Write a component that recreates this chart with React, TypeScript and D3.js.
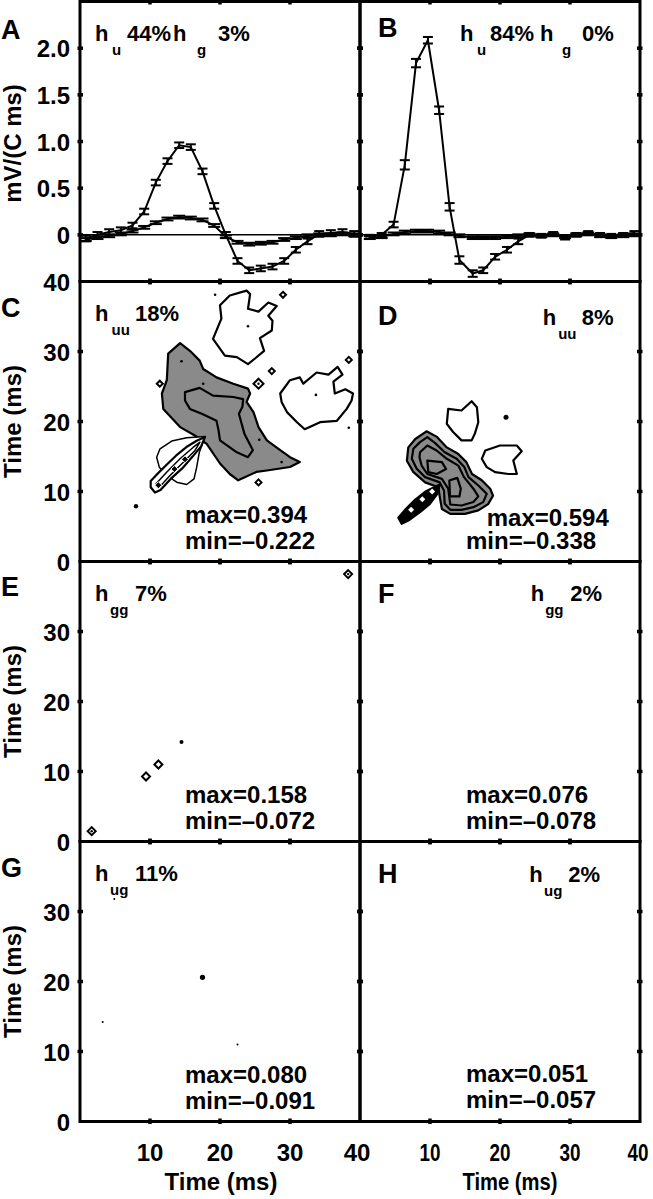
import React, { useEffect } from 'react';
import * as d3 from 'd3';

const FONT = '"Liberation Sans", Arial, Helvetica, sans-serif';
const GRAY = '#8a8a8a';

// ---------- Row 1: kernels (mV/(C ms)) ----------
const timeA = [0.83, 2.5, 4.17, 5.83, 7.5, 9.17, 10.83, 12.5, 14.17, 15.83, 17.5, 19.17, 20.83, 22.5, 24.17, 25.83, 27.5, 29.17, 30.83, 32.5, 34.17, 35.83, 37.5, 39.17];
const kernelAu = [-0.04, 0.0, 0.03, 0.05, 0.1, 0.25, 0.56, 0.79, 0.96, 0.94, 0.68, 0.31, 0.0, -0.28, -0.38, -0.36, -0.34, -0.28, -0.16, -0.07, 0.01, 0.02, 0.03, 0.01];
const errAu = [0.03, 0.03, 0.03, 0.03, 0.03, 0.03, 0.03, 0.03, 0.03, 0.03, 0.03, 0.03, 0.03, 0.03, 0.03, 0.03, 0.03, 0.03, 0.03, 0.03, 0.03, 0.03, 0.03, 0.03];
const kernelAg = [-0.05, -0.03, -0.01, 0.01, 0.04, 0.08, 0.13, 0.17, 0.19, 0.18, 0.16, 0.1, -0.02, -0.08, -0.1, -0.09, -0.08, -0.05, -0.03, -0.01, 0.0, 0.0, 0.01, 0.0];
const errAg = [0.015, 0.015, 0.015, 0.015, 0.015, 0.015, 0.015, 0.015, 0.015, 0.015, 0.015, 0.015, 0.015, 0.015, 0.015, 0.015, 0.015, 0.015, 0.015, 0.015, 0.015, 0.015, 0.015, 0.015];

const timeB = [1.4, 3.1, 4.8, 6.4, 8.0, 9.7, 11.3, 12.8, 14.2, 16.1, 17.6, 19.3, 21.0, 22.6, 24.2, 25.9, 27.6, 29.3, 30.9, 32.6, 34.3, 35.9, 37.6, 39.2];
const kernelBu = [-0.02, 0.0, 0.11, 0.75, 1.84, 2.085, 1.335, 0.3, -0.27, -0.415, -0.38, -0.235, -0.16, -0.07, 0.0, -0.01, 0.01, -0.03, 0.0, 0.02, 0.0, -0.01, 0.0, 0.02];
const errBu = [0.02, 0.02, 0.03, 0.05, 0.045, 0.035, 0.04, 0.04, 0.04, 0.035, 0.03, 0.03, 0.03, 0.03, 0.02, 0.02, 0.02, 0.02, 0.02, 0.02, 0.02, 0.02, 0.02, 0.02];
const kernelBg = [-0.03, -0.02, 0.01, 0.03, 0.04, 0.04, 0.03, 0.01, -0.01, -0.03, -0.03, -0.03, -0.02, -0.01, 0.0, -0.01, 0.0, -0.02, 0.0, 0.01, -0.01, -0.02, -0.01, 0.0];
const errBg = [0.015, 0.015, 0.015, 0.015, 0.015, 0.015, 0.015, 0.015, 0.015, 0.015, 0.015, 0.015, 0.015, 0.015, 0.015, 0.015, 0.015, 0.015, 0.015, 0.015, 0.015, 0.015, 0.015, 0.015];

const kernelTicks = [0, 0.5, 1, 1.5, 2];
const kernelTickLabels = ['0', '0.5', '1.0', '1.5', '2.0'];
const timeTicks = [10, 20, 30];
const timeTickLabelsY = ['0', '10', '20', '30', '40'];
const timeTickLabelsX = ['10', '20', '30', '40'];

// ---------- Panel C contours (ms, ms) ----------
const cPositiveOuter = [[14.3, 31.2], [15.7, 30.1], [17.1, 28.7], [17.6, 27.5], [19.5, 26.3], [21.9, 25.4], [24.0, 24.7], [24.3, 24.0], [23.8, 22.8], [24.8, 21.3], [25.5, 19.2], [26.7, 17.3], [28.6, 15.9], [30.0, 14.9], [31.4, 14.2], [30.0, 13.5], [26.7, 13.0], [25.2, 12.8], [22.6, 11.6], [21.4, 12.5], [20.0, 14.0], [18.1, 16.8], [16.4, 18.0], [14.3, 19.2], [11.9, 21.8], [11.7, 24.0], [12.4, 25.9], [12.6, 29.7]];
const cPositiveInner = [[15.0, 24.2], [17.1, 24.8], [19.0, 23.7], [21.9, 23.5], [23.3, 23.2], [23.2, 22.1], [22.7, 21.1], [23.5, 18.2], [24.7, 15.9], [24.0, 14.9], [22.4, 15.6], [20.0, 17.3], [19.8, 18.7], [19.5, 20.1], [17.4, 21.1], [15.7, 21.8], [15.0, 23.0]];
const cNegTop = [[19.0, 31.8], [20.2, 34.7], [20.0, 36.6], [21.4, 38.0], [23.8, 38.7], [24.3, 38.2], [24.0, 36.1], [25.5, 35.7], [26.9, 37.0], [28.1, 36.5], [26.9, 35.1], [27.5, 34.4], [27.4, 33.0], [25.7, 31.9], [26.3, 30.1], [25.0, 29.0], [24.0, 28.2], [22.4, 29.2], [20.7, 29.4]];
const cNegRight = [[28.6, 24.0], [30.0, 25.9], [31.4, 26.3], [31.9, 25.4], [33.8, 27.0], [35.5, 26.7], [36.8, 27.8], [37.5, 26.7], [36.2, 25.7], [36.4, 24.0], [37.9, 24.6], [39.0, 24.0], [38.8, 23.0], [38.1, 21.8], [36.7, 20.1], [34.3, 19.9], [32.1, 18.9], [31.0, 19.9], [29.6, 21.3], [28.8, 22.8]];
const cLens = [[17.86, 17.86], [15.24, 17.67], [13.1, 17.2], [11.43, 16.1], [10.95, 14.9], [11.33, 13.48], [12.38, 12.29], [13.81, 11.33], [15.24, 11.0], [16.29, 11.81], [16.67, 13.48], [17.05, 15.62]];
const cBoatOuter = [[10.1, 11.5], [10.85, 12.3], [12.3, 13.75], [13.75, 15.15], [15.2, 16.35], [16.67, 17.25], [17.86, 17.8], [17.3, 16.45], [16.05, 14.95], [14.6, 13.3], [12.95, 11.8], [11.5, 10.2], [10.71, 9.85], [10.1, 10.6]];
const cBoatInner = [[10.86, 11.1], [12.38, 12.76], [14.29, 14.67], [16.19, 16.33], [17.14, 17.05], [16.43, 15.86], [14.76, 14.19], [12.86, 12.29], [11.33, 10.62]];
const cBoatCores = [[11.2, 10.9], [13.5, 13.2], [15.0, 14.6]];
const cDots = [[14.5, 28.6], [17.6, 25.4], [25.6, 17.4], [28.8, 14.2], [24.0, 33.6], [33.7, 23.8], [38.4, 19.1], [19.3, 38.1]];
const cBigDots = [[8.0, 7.9]];
const cRings = [[25.5, 25.4]];
const cLoops = [[27.4, 27.2], [11.4, 25.4], [25.5, 11.3], [29.0, 38.1], [38.4, 28.8]];

// ---------- Panel D contours ----------
const dLevel1 = [[6.9, 16.3], [7.9, 17.5], [9.5, 18.6], [11.0, 17.8], [12.4, 16.3], [14.0, 15.4], [15.2, 14.2], [16.0, 12.5], [17.4, 11.6], [18.6, 10.4], [19.0, 9.4], [18.3, 8.2], [16.9, 7.3], [15.0, 6.8], [12.9, 6.8], [11.7, 7.5], [11.4, 9.2], [11.2, 10.6], [9.3, 11.3], [7.6, 12.8], [6.7, 14.4]];
const dLevel2 = [[7.62, 16.1], [8.57, 17.05], [9.62, 17.76], [10.7, 16.95], [12.1, 15.6], [13.8, 14.67], [14.9, 13.5], [15.5, 12.05], [16.9, 10.86], [18.1, 9.67], [17.6, 8.48], [16.2, 7.76], [14.5, 7.38], [12.9, 7.38], [12.1, 8.24], [12.0, 10.14], [11.4, 11.3], [9.3, 12.05], [8.1, 13.24], [7.4, 14.67]];
const dLevel3 = [[8.57, 15.6], [9.62, 16.57], [10.95, 15.86], [12.4, 14.67], [14.05, 13.7], [14.86, 12.05], [16.2, 10.4], [16.9, 9.3], [16.2, 8.5], [14.5, 8.0], [12.9, 8.14], [12.6, 10.4], [11.7, 11.8], [9.62, 12.5], [8.8, 13.7], [8.5, 14.9]];
const dLevel4a = [[9.62, 14.4], [11.7, 14.2], [12.3, 13.2], [10.95, 12.5], [9.76, 12.76]];
const dLevel4b = [[12.76, 11.57], [13.9, 11.95], [14.4, 10.4], [14.2, 9.29], [12.86, 9.29]];
const dNegTop = [[12.6, 21.8], [14.5, 21.57], [15.95, 22.9], [16.7, 22.05], [16.9, 19.9], [16.4, 18.24], [15.95, 17.3], [14.5, 17.3], [13.3, 18.5], [12.4, 19.67]];
const dNegRight = [[17.9, 15.86], [20.0, 16.57], [22.4, 16.57], [23.1, 15.76], [21.9, 14.43], [22.4, 12.5], [21.2, 12.5], [19.3, 12.76], [18.1, 13.48], [17.4, 14.67]];
const dBoat = [[5.48, 6.24], [6.43, 7.38], [7.86, 8.81], [9.43, 10.05], [11.4, 11.0], [11.05, 9.67], [9.9, 8.14], [8.57, 7.05], [6.9, 5.86], [5.95, 5.38]];
const dBoatHoles = [[7.3, 7.4], [8.9, 8.9], [10.3, 10.0]];
const dBigDots = [[20.86, 20.6]];

// ---------- Panel E / G marks ----------
const eRings = [[38.3, 38.2], [1.67, 1.48]];
const eLoops = [[9.43, 9.29], [11.2, 11.0]];
const eDots = [[14.5, 14.2]];
const gBigDots = [[17.5, 20.6]];
const gDots = [[3.24, 14.2], [22.5, 11.0], [4.9, 31.8]];

// ---------- Texts ----------
const panelLetters = ['A', 'B', 'C', 'D', 'E', 'F', 'G', 'H'];
const maxTexts = ['max=0.394', 'max=0.594', 'max=0.158', 'max=0.076', 'max=0.080', 'max=0.051'];
const minTexts = ['min=–0.222', 'min=–0.338', 'min=–0.072', 'min=–0.078', 'min=–0.091', 'min=–0.057'];

const COLS = [80, 360];
const ROWS = [1.5, 281.5, 561.5, 841.5];
const SIZE = 280;

const xScale = (c: number) => d3.scaleLinear().domain([0, 40]).range([COLS[c], COLS[c] + SIZE]);
const yTime = (r: number) => d3.scaleLinear().domain([0, 40]).range([ROWS[r] + SIZE, ROWS[r]]);
const yKernel = d3.scaleLinear().domain([-0.5, 2.5]).range([ROWS[0] + SIZE, ROWS[0]]);

type Sc = d3.ScaleLinear<number, number>;

function Poly({ pts, xs, ys, fill, sw = 2.2 }: { pts: number[][]; xs: Sc; ys: Sc; fill: string; sw?: number }) {
  const gen = d3.line<number[]>().x((d) => xs(d[0])).y((d) => ys(d[1])).curve(d3.curveLinearClosed);
  return <path d={gen(pts) || ''} fill={fill} stroke="#000" strokeWidth={sw} strokeLinejoin="round" />;
}

function diamond(cx: number, cy: number, h: number) {
  return `M${cx},${cy - h}L${cx + h},${cy}L${cx},${cy + h}L${cx - h},${cy}Z`;
}

function Marks({ pts, xs, ys, kind, s }: { pts: number[][]; xs: Sc; ys: Sc; kind: string; s: number }) {
  return (
    <g>
      {pts.map((p, i) => {
        const cx = xs(p[0]);
        const cy = ys(p[1]);
        if (kind === 'dot') return <circle key={i} cx={cx} cy={cy} r={s} fill="#000" />;
        if (kind === 'hole') return <path key={i} d={diamond(cx, cy, s)} fill="#fff" />;
        if (kind === 'core') return <path key={i} d={diamond(cx, cy, s)} fill="#000" stroke="#fff" strokeWidth={1} />;
        return (
          <g key={i}>
            <path d={diamond(cx, cy, s)} fill="#fff" stroke="#000" strokeWidth={2} />
            {kind === 'ring' && <circle cx={cx} cy={cy} r={1.2} fill="#000" />}
          </g>
        );
      })}
    </g>
  );
}

function Kernel({ t, v, e, xs, cap }: { t: number[]; v: number[]; e: number[]; xs: Sc; cap: number }) {
  const line = d3.line<number>().x((_, i) => xs(t[i])).y((d) => yKernel(d));
  return (
    <g stroke="#000" fill="none" strokeWidth={2}>
      <path d={line(v) || ''} />
      {v.map((d, i) => {
        const x = xs(t[i]);
        const y1 = yKernel(d - e[i]);
        const y2 = yKernel(d + e[i]);
        return (
          <g key={i}>
            <line x1={x} x2={x} y1={y1} y2={y2} />
            <line x1={x - cap} x2={x + cap} y1={y1} y2={y1} />
            <line x1={x - cap} x2={x + cap} y1={y2} y2={y2} />
          </g>
        );
      })}
    </g>
  );
}

function HLabel({ x, y, parts }: { x: number; y: number; parts: [number, string, boolean][] }) {
  return (
    <g fontFamily={FONT} fontWeight="bold" fill="#000">
      {parts.map(([dx, s, sub], i) => (
        <text key={i} x={x + dx} y={sub ? y + 14 : y} fontSize={sub ? 15 : 22}>{s}</text>
      ))}
    </g>
  );
}

export default function App() {
  useEffect(() => {
    document.body.style.margin = '0';
  }, []);
  const x0 = xScale(0);
  const x1 = xScale(1);
  const yr = [0, 1, 2, 3].map(yTime);

  const frames: JSX.Element[] = [];
  for (let r = 0; r < 4; r++) {
    for (let c = 0; c < 2; c++) {
      const xs = xScale(c);
      const left = COLS[c];
      const top = ROWS[r];
      const ticks: JSX.Element[] = [];
      timeTicks.forEach((tv) => {
        const px = xs(tv);
        ticks.push(<line key={`xt${tv}`} x1={px} x2={px} y1={top - 2.5} y2={top + 3} />);
        ticks.push(<line key={`xb${tv}`} x1={px} x2={px} y1={top + SIZE - 3} y2={top + SIZE + 2.5} />);
      });
      const yv = r === 0 ? kernelTicks.map((k) => yKernel(k)) : timeTicks.map((k) => yr[r](k));
      yv.forEach((py, i) => {
        ticks.push(<line key={`yl${i}`} x1={left - 2.5} x2={left + 3} y1={py} y2={py} />);
        ticks.push(<line key={`yr${i}`} x1={left + SIZE - 3} x2={left + SIZE + 2.5} y1={py} y2={py} />);
      });
      frames.push(
        <g key={`f${r}${c}`} stroke="#000" fill="none">
          <rect x={left} y={top} width={SIZE} height={SIZE} strokeWidth={3} />
          <g strokeWidth={3.5}>{ticks}</g>
        </g>
      );
    }
  }

  const letterPos = [
    [1, 37.8], [378, 35.2], [1, 35.8], [378, 43.5], [1, 34.5], [378, 41.8], [1, 35.2], [378, 41.8],
  ];

  return (
    <svg width={653} height={1199} style={{ position: 'absolute', left: 0, top: 0, background: '#fff' }} fontFamily={FONT}>
      <rect x={0} y={0} width={653} height={1199} fill="#fff" />

      {/* Row 1 kernels */}
      <line x1={COLS[0]} x2={COLS[0] + SIZE} y1={yKernel(0)} y2={yKernel(0)} stroke="#000" strokeWidth={1.5} />
      <line x1={COLS[1]} x2={COLS[1] + SIZE} y1={yKernel(0)} y2={yKernel(0)} stroke="#000" strokeWidth={1.5} />
      <Kernel t={timeA} v={kernelAg} e={errAg} xs={x0} cap={6} />
      <Kernel t={timeA} v={kernelAu} e={errAu} xs={x0} cap={5} />
      <Kernel t={timeB} v={kernelBg} e={errBg} xs={x1} cap={6} />
      <Kernel t={timeB} v={kernelBu} e={errBu} xs={x1} cap={5} />

      {/* Panel C */}
      <Poly pts={cPositiveOuter} xs={x0} ys={yr[1]} fill={GRAY} />
      <Poly pts={cPositiveInner} xs={x0} ys={yr[1]} fill="none" />
      <Poly pts={cNegTop} xs={x0} ys={yr[1]} fill="#fff" />
      <Poly pts={cNegRight} xs={x0} ys={yr[1]} fill="#fff" />
      <Poly pts={cLens} xs={x0} ys={yr[1]} fill="#fff" sw={1.5} />
      <Poly pts={cBoatOuter} xs={x0} ys={yr[1]} fill="#fff" />
      <Poly pts={cBoatInner} xs={x0} ys={yr[1]} fill="#fff" sw={1.5} />
      <Marks pts={cBoatCores} xs={x0} ys={yr[1]} kind="core" s={3.5} />
      <Marks pts={cDots} xs={x0} ys={yr[1]} kind="dot" s={1.3} />
      <Marks pts={cBigDots} xs={x0} ys={yr[1]} kind="dot" s={2.2} />
      <Marks pts={cRings} xs={x0} ys={yr[1]} kind="ring" s={5} />
      <Marks pts={cLoops} xs={x0} ys={yr[1]} kind="loop" s={3} />

      {/* Panel D */}
      <Poly pts={dLevel1} xs={x1} ys={yr[1]} fill={GRAY} />
      <Poly pts={dLevel2} xs={x1} ys={yr[1]} fill={GRAY} />
      <Poly pts={dLevel3} xs={x1} ys={yr[1]} fill={GRAY} />
      <Poly pts={dLevel4a} xs={x1} ys={yr[1]} fill={GRAY} />
      <Poly pts={dLevel4b} xs={x1} ys={yr[1]} fill={GRAY} />
      <Poly pts={dNegTop} xs={x1} ys={yr[1]} fill="#fff" />
      <Poly pts={dNegRight} xs={x1} ys={yr[1]} fill="#fff" />
      <Poly pts={dBoat} xs={x1} ys={yr[1]} fill="#000" />
      <Marks pts={dBoatHoles} xs={x1} ys={yr[1]} kind="hole" s={3} />
      <Marks pts={dBigDots} xs={x1} ys={yr[1]} kind="dot" s={2.5} />

      {/* Panel E */}
      <Marks pts={eRings} xs={x0} ys={yr[2]} kind="ring" s={4} />
      <Marks pts={eLoops} xs={x0} ys={yr[2]} kind="loop" s={4} />
      <Marks pts={eDots} xs={x0} ys={yr[2]} kind="dot" s={2} />

      {/* Panel G */}
      <Marks pts={gBigDots} xs={x0} ys={yr[3]} kind="dot" s={2.6} />
      <Marks pts={gDots} xs={x0} ys={yr[3]} kind="dot" s={1} />

      {frames}

      {/* Y tick labels */}
      <g fontSize={24} fontWeight="bold" textAnchor="end">
        {kernelTicks.map((k, i) => (
          <text key={`k${i}`} x={70} y={yKernel(k) + 9}>{kernelTickLabels[i]}</text>
        ))}
        {[1, 2, 3].map((r) =>
          [0, 10, 20, 30, 40]
            .filter((v) => r === 1 || v < 40)
            .map((v, i) => (
              <text key={`t${r}${i}`} x={70} y={yr[r](v) + 9}>{timeTickLabelsY[v / 10]}</text>
            ))
        )}
      </g>

      {/* X tick labels */}
      <g fontSize={24} fontWeight="bold" textAnchor="middle">
        {[10, 20, 30, 40].map((v, i) => (
          <text key={`xl${i}`} x={x0(v) - (v === 40 ? 3 : 0)} y={1161}>{timeTickLabelsX[i]}</text>
        ))}
        {[10, 20, 30, 40].map((v, i) => (
          <text key={`xr${i}`} x={x1(v) - (v === 40 ? 2 : 0)} y={1161} textLength={21} lengthAdjust="spacingAndGlyphs">{timeTickLabelsX[i]}</text>
        ))}
        <text x={221} y={1190}>Time (ms)</text>
        <text x={510} y={1190} textLength={95} lengthAdjust="spacingAndGlyphs">Time (ms)</text>
      </g>

      {/* Y axis titles */}
      <g fontSize={24} fontWeight="bold" textAnchor="middle">
        <text transform={`translate(21,${ROWS[0] + 142}) rotate(-90)`}>mV/(C ms)</text>
        {[1, 2, 3].map((r) => (
          <text key={r} transform={`translate(21,${ROWS[r] + 140}) rotate(-90)`}>Time (ms)</text>
        ))}
      </g>

      {/* Panel letters */}
      <g fontSize={27} fontWeight="bold">
        {panelLetters.map((L, i) => (
          <text key={L} x={letterPos[i][0]} y={ROWS[Math.floor(i / 2)] + letterPos[i][1]}>{L}</text>
        ))}
      </g>

      {/* h labels */}
      <HLabel x={95} y={ROWS[0] + 39.2} parts={[[0, 'h', false], [17, 'u', true], [32, '44%', false], [78, 'h', false], [102, 'g', true], [123, '3%', false]]} />
      <HLabel x={460} y={ROWS[0] + 39} parts={[[0, 'h', false], [17, 'u', true], [30, '84%', false], [80, 'h', false], [102, 'g', true], [122, '0%', false]]} />
      <HLabel x={95} y={ROWS[1] + 39.2} parts={[[0, 'h', false], [16.5, 'uu', true], [40, '18%', false]]} />
      <HLabel x={542.7} y={ROWS[1] + 43.5} parts={[[0, 'h', false], [15.5, 'uu', true], [39, '8%', false]]} />
      <HLabel x={95} y={ROWS[2] + 39.2} parts={[[0, 'h', false], [15, 'gg', true], [40, '7%', false]]} />
      <HLabel x={530.7} y={ROWS[2] + 39.2} parts={[[0, 'h', false], [14.5, 'gg', true], [39.5, '2%', false]]} />
      <HLabel x={95} y={ROWS[3] + 39.2} parts={[[0, 'h', false], [15, 'ug', true], [40, '11%', false]]} />
      <HLabel x={529.3} y={ROWS[3] + 40} parts={[[0, 'h', false], [14.7, 'ug', true], [39, '2%', false]]} />

      {/* max / min */}
      <g fontSize={24} fontWeight="bold">
        <text x={185} y={ROWS[1] + 241.2}>{maxTexts[0]}</text>
        <text x={185} y={ROWS[1] + 267.8}>{minTexts[0]}</text>
        <text x={486.7} y={ROWS[1] + 244.5}>{maxTexts[1]}</text>
        <text x={466} y={ROWS[1] + 267.5}>{minTexts[1]}</text>
        <text x={185} y={ROWS[2] + 241.2}>{maxTexts[2]}</text>
        <text x={185} y={ROWS[2] + 267.8}>{minTexts[2]}</text>
        <text x={466} y={ROWS[2] + 241.8}>{maxTexts[3]}</text>
        <text x={466} y={ROWS[2] + 267.8}>{minTexts[3]}</text>
        <text x={185} y={ROWS[3] + 241.2}>{maxTexts[4]}</text>
        <text x={185} y={ROWS[3] + 267.8}>{minTexts[4]}</text>
        <text x={466} y={ROWS[3] + 240.2}>{maxTexts[5]}</text>
        <text x={466} y={ROWS[3] + 266.8}>{minTexts[5]}</text>
      </g>
    </svg>
  );
}
